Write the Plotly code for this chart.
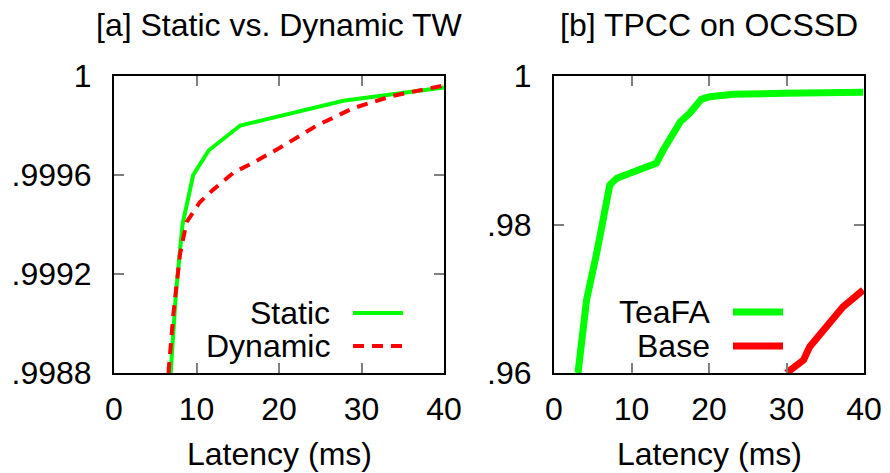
import plotly.graph_objects as go

# ---- data: panel [a] ----
static_x = [6.87, 7.5, 8.3, 9.6, 11.5, 15.3, 27.8, 40.0]
static_y = [0.99880, 0.99912, 0.99940, 0.99960, 0.99970, 0.99980, 0.99990, 0.999954]
dynamic_x = [6.6, 7.2, 8.0, 8.8, 10.4, 12.0, 14.5, 16.9, 20.1, 24.6, 29.0, 33.8, 39.7]
dynamic_y = [0.99880, 0.99904, 0.99928, 0.99941, 0.99949, 0.99954, 0.99961, 0.99965,
             0.99971, 0.99980, 0.99987, 0.99992, 0.99996]

# ---- data: panel [b] ----
teafa_x = [3.1, 4.2, 5.5, 6.6, 7.2, 8.1, 10.2, 13.2, 14.1, 15.8, 16.3, 17.5, 19.0, 20.1, 23.1, 29.6, 39.9]
teafa_y = [0.9600, 0.96983, 0.97612, 0.98286, 0.98532, 0.98622, 0.98711, 0.98824, 0.99003,
           0.99273, 0.99385, 0.99497, 0.99686, 0.99721, 0.99753, 0.99767, 0.99780]
base_x = [30.0, 32.2, 33.0, 35.2, 37.3, 39.9]
base_y = [0.9600, 0.96175, 0.96355, 0.96624, 0.96893, 0.97118]

x_ticks = [0, 10, 20, 30, 40]
a_yticks = [0.9988, 0.9992, 0.9996, 1.0]
a_ylabels = [".9988", ".9992", ".9996", "1"]
b_yticks = [0.96, 0.98, 1.0]
b_ylabels = [".96", ".98", "1"]

titles = ["[a] Static vs. Dynamic TW", "[b] TPCC on OCSSD"]
xlabel = "Latency (ms)"

W, H = 890, 473
L, R, T, B = 114, 26, 76, 100
PW, PH = W - L - R, H - T - B
FONT = "Liberation Sans, Arial, sans-serif"
FS = 32
GREEN = "#00ff00"
RED = "#ff0000"


def px(xp):
    return (xp - L) / PW


def py(yp):
    return (H - B - yp) / PH


fig = go.Figure()
fig.add_trace(go.Scatter(x=static_x, y=static_y, mode="lines", name="Static",
                         line=dict(color=GREEN, width=4), xaxis="x", yaxis="y", showlegend=False))
fig.add_trace(go.Scatter(x=dynamic_x, y=dynamic_y, mode="lines", name="Dynamic",
                         line=dict(color=RED, width=4, dash="11px,8px"), xaxis="x", yaxis="y", showlegend=False))
fig.add_trace(go.Scatter(x=teafa_x, y=teafa_y, mode="lines", name="TeaFA",
                         line=dict(color=GREEN, width=7), xaxis="x2", yaxis="y2", showlegend=False))
fig.add_trace(go.Scatter(x=base_x, y=base_y, mode="lines", name="Base",
                         line=dict(color=RED, width=7), xaxis="x2", yaxis="y2", showlegend=False))

xa_dom = [px(114), px(444)]
xb_dom = [px(554), px(864)]
y_dom = [0, 1]

axis_common = dict(showline=True, linecolor="black", linewidth=2, mirror="ticks",
                   ticks="inside", ticklen=10, tickwidth=1.5, tickcolor="#808080",
                   showgrid=False, zeroline=False, automargin=False,
                   tickfont=dict(family=FONT, size=FS, color="black"))

fig.update_layout(
    width=W, height=H,
    margin=dict(l=L, r=R, t=T, b=B, autoexpand=False),
    paper_bgcolor="white", plot_bgcolor="white",
    font=dict(family=FONT, size=FS, color="black"),
    xaxis=dict(domain=xa_dom, range=[0, 40], tickvals=x_ticks, anchor="y",
               ticklabelstandoff=7, **axis_common),
    yaxis=dict(domain=y_dom, range=[0.9988, 1.0], tickvals=a_yticks, ticktext=a_ylabels, anchor="x",
               ticklabelstandoff=14, **axis_common),
    xaxis2=dict(domain=xb_dom, range=[0, 40], tickvals=x_ticks, anchor="y2",
                ticklabelstandoff=7, **axis_common),
    yaxis2=dict(domain=y_dom, range=[0.96, 1.0], tickvals=b_yticks, ticktext=b_ylabels, anchor="x2",
                ticklabelstandoff=14, **axis_common),
)

# titles and x-axis labels
for dom, t in zip([xa_dom, xb_dom], titles):
    cx = (dom[0] + dom[1]) / 2
    fig.add_annotation(text=t, xref="paper", yref="paper", x=cx, y=py(25),
                       xanchor="center", yanchor="middle", showarrow=False,
                       font=dict(family=FONT, size=FS, color="black"))
    fig.add_annotation(text=xlabel, xref="paper", yref="paper", x=cx, y=py(454),
                       xanchor="center", yanchor="middle", showarrow=False,
                       font=dict(family=FONT, size=FS, color="black"))

# gnuplot-style legends (text right-aligned, key sample after it)
legends = [
    [("Static", GREEN, 4, "solid", 313), ("Dynamic", RED, 4, "11px,8px", 346)],
    [("TeaFA", GREEN, 7, "solid", 312), ("Base", RED, 7, "solid", 346)],
]
legend_pos = [(332, 353, 403), (712, 733, 783)]
for items, (text_right, l0, l1) in zip(legends, legend_pos):
    for name, col, wdt, dash, ypx in items:
        fig.add_annotation(text=name, xref="paper", yref="paper", x=px(text_right), y=py(ypx),
                           xanchor="right", yanchor="middle", showarrow=False,
                           font=dict(family=FONT, size=FS, color="black"))
        fig.add_shape(type="line", xref="paper", yref="paper", x0=px(l0), x1=px(l1),
                      y0=py(ypx), y1=py(ypx), line=dict(color=col, width=wdt, dash=dash))

fig.write_html("out.html")
